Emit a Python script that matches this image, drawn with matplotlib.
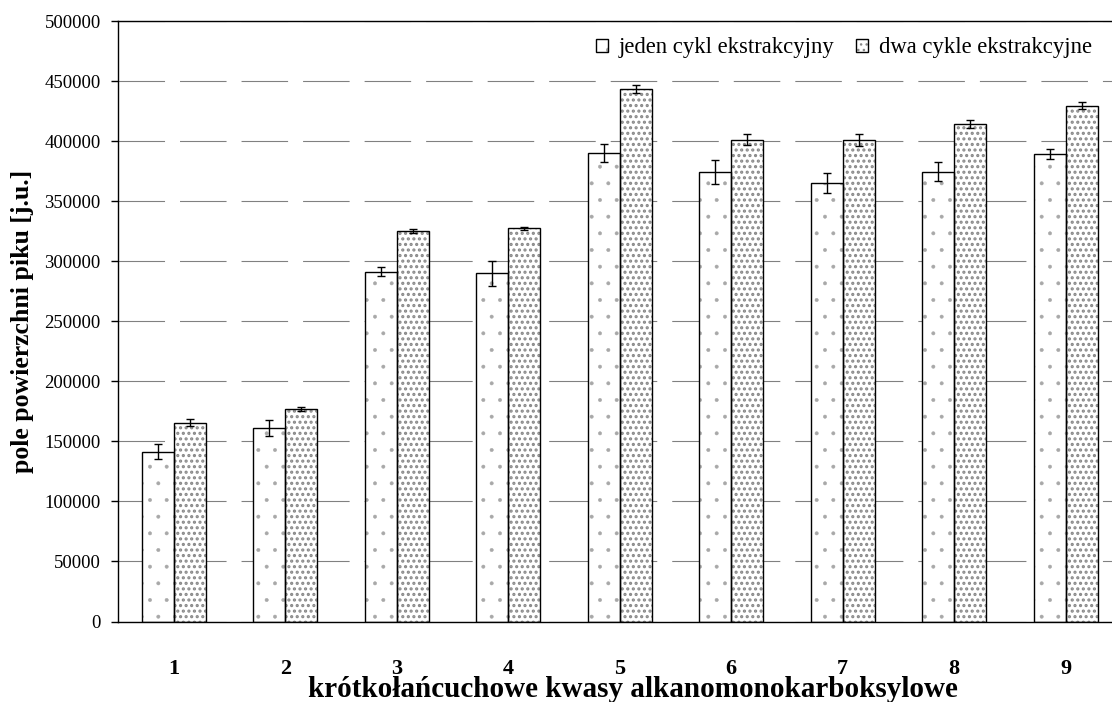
import numpy as np
import matplotlib
matplotlib.use("Agg")
import matplotlib.pyplot as plt
from matplotlib.legend_handler import HandlerTuple

plt.rcParams["font.family"] = ["Liberation Serif", "DejaVu Serif"]
plt.rcParams["lines.scale_dashes"] = False

# Data: peak areas for nine short-chain acids
categories = ["1", "2", "3", "4", "5", "6", "7", "8", "9"]
one_cycle = [141500, 161000, 291500, 290000, 390000, 374300, 365400, 374800, 389300]
one_cycle_err = [6400, 6500, 3600, 10700, 7600, 10000, 8600, 7800, 4200]
two_cycles = [165700, 177000, 325400, 327500, 443700, 401500, 401250, 414300, 429800]
two_cycles_err = [2900, 2000, 1900, 1500, 3600, 4200, 5000, 3300, 3200]
yticks = list(range(0, 500001, 50000))

series_labels = ["jeden cykl ekstrakcyjny", "dwa cykle ekstrakcyjne"]

W, H = 1112, 702
fig = plt.figure(figsize=(W / 100, H / 100), dpi=100)
x0, x1, ytop, ybot = 118, 1121.5, 21.3, 621.5
ax = fig.add_axes([x0 / W, (H - ybot) / H, (x1 - x0) / W, (ybot - ytop) / H])

x = np.arange(1, len(categories) + 1)
w = 0.287


def hatched_bars(xs, ys, hatch, color, hatch_lw):
    with plt.rc_context({"hatch.linewidth": hatch_lw}):
        bars = ax.bar(xs, ys, w, color="white", edgecolor=color,
                      linewidth=0, hatch=hatch, zorder=2)
    for b in bars:
        if hasattr(b, "set_hatch_linewidth"):
            b.set_hatch_linewidth(hatch_lw)
    return bars


# Patterned fill layers
f1 = hatched_bars(x - w / 2, one_cycle, ".", "#a8a8a8", 0.35)
f2 = hatched_bars(x + w / 2, two_cycles, "...", "#888888", 1.5)
# Black outlines
o1 = ax.bar(x - w / 2, one_cycle, w, fill=False, edgecolor="black",
            linewidth=1.0, zorder=3)
o2 = ax.bar(x + w / 2, two_cycles, w, fill=False, edgecolor="black",
            linewidth=1.0, zorder=3)

for xs, ys, es in [(x - w / 2, one_cycle, one_cycle_err),
                   (x + w / 2, two_cycles, two_cycles_err)]:
    ax.errorbar(xs, ys, yerr=es, fmt="none", ecolor="black", elinewidth=1.0,
                capsize=3.2, capthick=1.0, zorder=4)

ax.set_xlim(0.5, len(categories) + 0.5)
ax.set_ylim(0, 500000)
ax.set_yticks(yticks)
ax.set_yticklabels([str(v) for v in yticks], fontsize=13.5)
ax.tick_params(axis="y", direction="out", length=5, width=1.0, pad=7.5)
ax.set_xticks(x)
ax.set_xticklabels(categories, fontsize=16, fontweight="bold")
ax.tick_params(axis="x", length=0, pad=27)

ax.set_axisbelow(True)
ax.yaxis.grid(True, color="#808080", linewidth=0.8, linestyle=(0, (33.5, 10.8)))

for side in ["top", "left", "bottom"]:
    ax.spines[side].set_linewidth(1.0)
    ax.spines[side].set_color("black")
ax.spines["right"].set_visible(False)

ax.set_xlabel("krótkołańcuchowe kwasy alkanomonokarboksylowe",
              fontsize=21, fontweight="bold")
ax.xaxis.set_label_coords(0.513, (ybot - 697) / (ybot - ytop))
ax.xaxis.label.set_verticalalignment("baseline")
ax.set_ylabel("pole powierzchni piku [j.u.]", fontsize=18.5, fontweight="bold")
ax.yaxis.set_label_coords((22 - x0) / (x1 - x0), 0.5)
ax.yaxis.label.set_verticalalignment("center")

ax.legend(handles=[(f1[0], o1[0]), (f2[0], o2[0])], labels=series_labels,
          handler_map={tuple: HandlerTuple(ndivide=1)},
          ncol=2, frameon=False, fontsize=16.3,
          handlelength=0.5, handleheight=0.5, handletextpad=0.5,
          columnspacing=0.95, borderaxespad=0, borderpad=0,
          loc="center right", bbox_to_anchor=(1092 / W, (H - 48) / H),
          bbox_transform=fig.transFigure)

fig.savefig("out.png", dpi=100)
